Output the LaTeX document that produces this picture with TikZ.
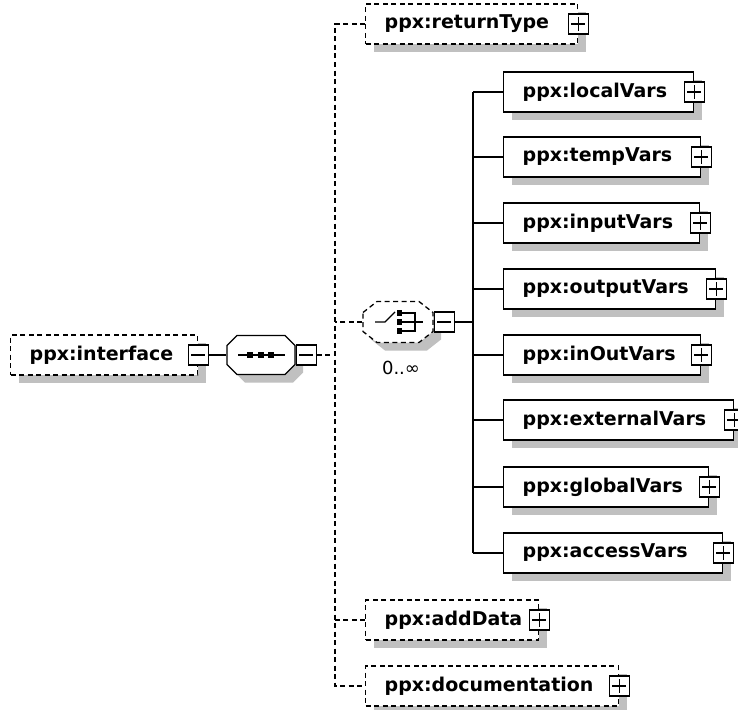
\documentclass[tikz,border=0pt]{standalone}
\usepackage{fontspec}
\setmainfont{DejaVu Sans}
\usetikzlibrary{shadows}
\definecolor{dropgray}{RGB}{192,192,192}

\begin{document}
\begin{tikzpicture}[x=1pt, y=-1pt, line width=1.3pt,
    font=\fontsize{18}{20}\selectfont,
    elem/.style={draw, fill=white, anchor=west, minimum height=40pt,
      inner xsep=19pt, inner ysep=0pt, text width=#1, align=left,
      font=\fontsize{19}{22}\selectfont\bfseries,
      general shadow={fill=dropgray, shadow xshift=8pt, shadow yshift=-8pt}},
    optional/.style={dash pattern=on 5pt off 3.5pt},
    expbox/.style={draw, fill=white, minimum width=20pt, minimum height=20pt, inner sep=0pt},
    minusbox/.style={expbox, path picture={
        \draw ([xshift=3pt]path picture bounding box.west) -- ([xshift=-3pt]path picture bounding box.east);}},
    plusbox/.style={expbox, path picture={
        \draw ([xshift=3pt]path picture bounding box.west) -- ([xshift=-3pt]path picture bounding box.east);
        \draw ([yshift=-3pt]path picture bounding box.north) -- ([yshift=3pt]path picture bounding box.south);}},
    slot/.style={inner sep=0pt, minimum width=#1},
  ]
  \fill[white] (0,0) rectangle (738,709);
  \useasboundingbox (0,0) rectangle (738,709);

  % ==== root element and its sequence ====
  \node[elem=149, optional] (iface) at (10,355) {ppx:interface};
  \node[minusbox] (iface-x) at (iface.east) {};
  \node[slot=68pt, minimum height=39pt] (seq) at (261,355) {};
  \begin{scope}[shift={(seq.center)}]
    \fill[dropgray, shift={(8,8)}] (-34,-9.5) -- (-24,-19.5) -- (24,-19.5) -- (34,-9.5)
      -- (34,9.5) -- (24,19.5) -- (-24,19.5) -- (-34,9.5) -- cycle;
    \filldraw[fill=white] (-34,-9.5) -- (-24,-19.5) -- (24,-19.5) -- (34,-9.5)
      -- (34,9.5) -- (24,19.5) -- (-24,19.5) -- (-34,9.5) -- cycle;
    % sequence glyph
    \draw (-23,0) -- (24,0);
    \foreach \d in {-11,0,10}
      \fill (\d-3,-3) rectangle (\d+3,3);
  \end{scope}
  \node[minusbox, anchor=west] (seq-x) at (seq.east) {};
  \draw (iface-x.east) -- (seq.west);

  % ==== optional children on the dashed spine ====
  \coordinate (bus) at (335,355);
  \node[elem=174, optional] (returnType) at (365,24) {ppx:returnType};
  \node[plusbox] (returnType-x) at (returnType.east) {};
  \node[elem=135, optional] (addData) at (365,620) {ppx:addData};
  \node[plusbox] (addData-x) at (addData.east) {};
  \node[elem=215, optional] (documentation) at (365,686) {ppx:documentation};
  \node[plusbox] (documentation-x) at (documentation.east) {};

  % choice, 0..unbounded
  \node[slot=70pt, minimum height=41pt] (choice) at (398,322) {};
  \begin{scope}[shift={(choice.center)}]
    \fill[dropgray, shift={(8,8)}] (-35,-9.5) -- (-21,-20.5) -- (21,-20.5) -- (35,-9.5)
      -- (35,9.5) -- (21,20.5) -- (-21,20.5) -- (-35,9.5) -- cycle;
    \filldraw[fill=white, optional] (-35,-9.5) -- (-21,-20.5) -- (21,-20.5) -- (35,-9.5)
      -- (35,9.5) -- (21,20.5) -- (-21,20.5) -- (-35,9.5) -- cycle;
    % choice glyph
    \draw (-23,0) -- (-13,0) -- (-3,-10);
    \foreach \d in {-9,0,9}
      \fill (-1,\d-3) rectangle (4,\d+3);
    \draw (4,-9) -- (17,-9) -- (17,9) -- (4,9);
    \draw (4,0) -- (25,0);
  \end{scope}
  \node[minusbox, anchor=west] (choice-x) at (choice.east) {};
  \node (choice-occ) at (401,368) {0..∞};

  \draw[optional] (returnType.west) -| (bus) |- (documentation.west);
  \draw[optional] (seq-x.east) -- (bus);
  \draw[optional] (choice.west) -- (choice.west -| bus);
  \draw[optional] (addData.west) -- (addData.west -| bus);

  % ==== members of the choice ====
  \coordinate (cbus) at (473,322);
  \foreach \name/\w/\y in {localVars/152/92, tempVars/159/157, inputVars/158/223,
      outputVars/174/289, inOutVars/159/355, externalVars/192/420,
      globalVars/167/487, accessVars/181/553}{
    \node[elem=\w] (\name) at (503,\y) {ppx:\name};
    \node[plusbox] (\name-x) at (\name.east) {};
    \draw (\name.west) -- (\name.west -| cbus);
  }
  \draw (localVars.west -| cbus) -- (accessVars.west -| cbus);
  \draw (choice-x.east) -- (choice-x.east -| cbus);
\end{tikzpicture}
\end{document}
